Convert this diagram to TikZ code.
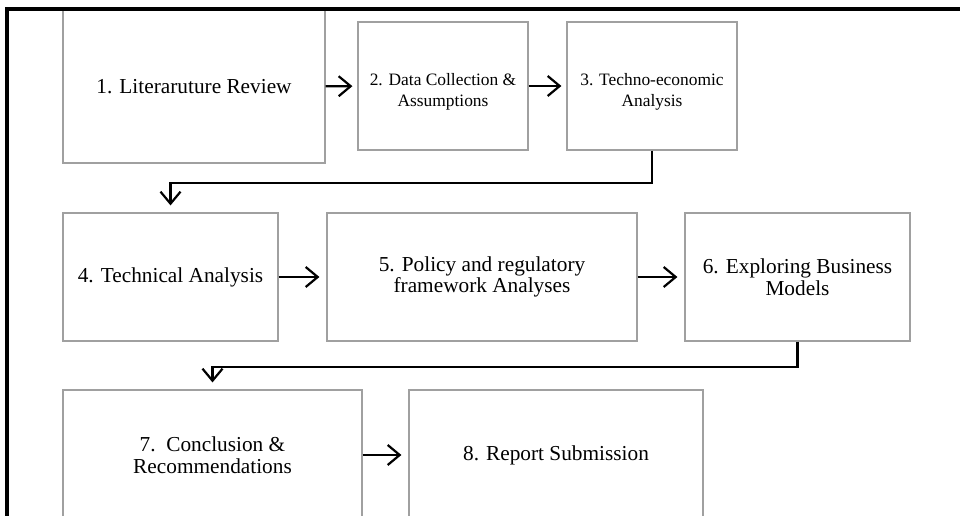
\documentclass[tikz,border=0pt]{standalone}
\usepackage{fontspec}
\setmainfont{Liberation Serif}
\usepackage{xcolor}
\usepackage{tikz}
\usetikzlibrary{arrows.meta}
\definecolor{frame}{HTML}{000000}
\definecolor{boxline}{HTML}{A0A0A0}
\definecolor{text}{HTML}{000000}
\tikzset{
  stage/.style={draw=boxline, fill=white, line width=1.2pt, inner sep=0pt, align=center,
    text=text, font=\fontsize{21.3}{21.5}\selectfont},
  small/.style={font=\fontsize{17.4}{21}\selectfont, text height=44pt},
  flow/.style={draw=frame, line width=2.2pt, -{Straight Barb[length=12pt,width=20pt]}, shorten >=7pt},
  edge/.style={draw=frame, line width=4pt},
}
\begin{document}
\begin{tikzpicture}[x=1pt, y=-1pt]
  \useasboundingbox (0,0) rectangle (960,516);
  \clip (0,0) rectangle (960,516);
  % row 1
  \node[stage, minimum width=262pt, minimum height=153pt] (lit) at (194,86.5) {1. Literaruture Review};
  \node[stage, small, minimum width=170pt, minimum height=128pt] (data) at (443,86) {2. Data Collection \&\\Assumptions};
  \node[stage, small, minimum width=170pt, minimum height=128pt] (techeco) at (652,86) {3. Techno-economic\\Analysis};
  % row 2
  \node[stage, minimum width=215pt, minimum height=128pt] (tech) at (170.5,277) {4. Technical Analysis};
  \node[stage, minimum width=310pt, minimum height=128pt] (policy) at (482,277) {5. Policy and regulatory\\framework Analyses};
  \node[stage, minimum width=225pt, minimum height=128pt] (biz) at (797.5,277) {6. Exploring Business\\Models};
  % row 3
  \node[stage, minimum width=299pt, minimum height=130pt] (concl) at (212.5,455) {7.\ \ Conclusion \&\\Recommendations};
  \node[stage, minimum width=294pt, minimum height=130pt] (report) at (556,455) {8. Report Submission};
  % arrows
  \draw[flow, shorten >=5pt] (lit) -- (data);
  \draw[flow, shorten >=5pt] (data) -- (techeco);
  \draw[flow] (techeco.south) -- ++(0,32) -| (tech.north);
  \draw[flow] (tech) -- (policy);
  \draw[flow] (policy) -- (biz);
  \draw[flow] (biz.south) -- ++(0,25) -| (concl.north);
  \draw[flow] (concl) -- (report);
  % frame
  \draw[edge] (7,530) -- (7,9) -- (970,9);
\end{tikzpicture}
\end{document}
